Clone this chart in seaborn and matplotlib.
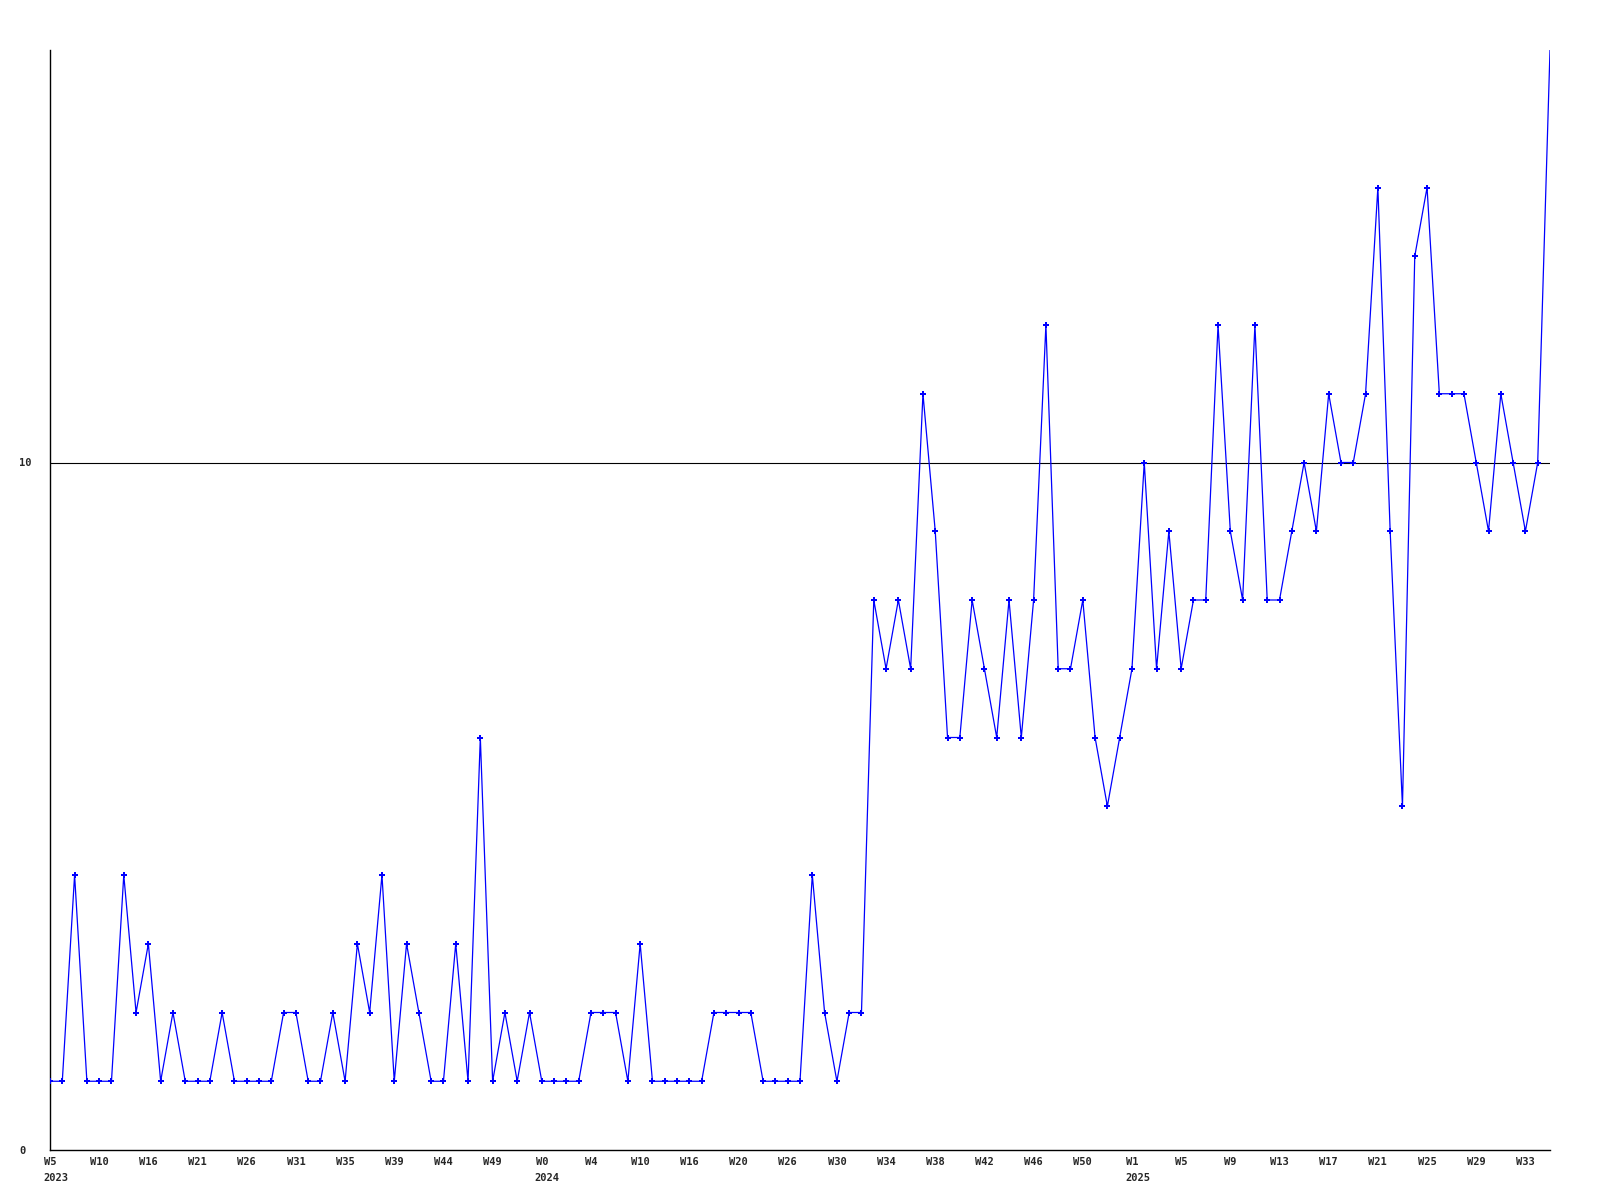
import matplotlib
matplotlib.use("Agg")
import matplotlib.pyplot as plt
import seaborn as sns
import pandas as pd

# weekly counts (123 weeks, 2023 W5 .. 2025 W35)
values = [
    1, 1, 4, 1, 1, 1, 4, 2, 3, 1,
    2, 1, 1, 1, 2, 1, 1, 1, 1, 2,
    2, 1, 1, 2, 1, 3, 2, 4, 1, 3,
    2, 1, 1, 3, 1, 6, 1, 2, 1, 2,
    1, 1, 1, 1, 2, 2, 2, 1, 3, 1,
    1, 1, 1, 1, 2, 2, 2, 2, 1, 1,
    1, 1, 4, 2, 1, 2, 2, 8, 7, 8,
    7, 11, 9, 6, 6, 8, 7, 6, 8, 6,
    8, 12, 7, 7, 8, 6, 5, 6, 7, 10,
    7, 9, 7, 8, 8, 12, 9, 8, 12, 8,
    8, 9, 10, 9, 11, 10, 10, 11, 14, 9,
    5, 13, 14, 11, 11, 11, 10, 9, 11, 10,
    9, 10, 16,
]
tick_positions = list(range(0, 121, 4))
tick_labels = ["W5", "W10", "W16", "W21", "W26", "W31", "W35", "W39", "W44", "W49",
               "W0", "W4", "W10", "W16", "W20", "W26", "W30", "W34", "W38", "W42",
               "W46", "W50", "W1", "W5", "W9", "W13", "W17", "W21", "W25", "W29", "W33"]
year_positions = [0, 40, 88]
year_labels = ["2023", "2024", "2025"]
y_ticks = [0, 10]
y_tick_labels = ["0", "10"]

sns.set_style("white")
plt.rcParams['font.family'] = ['DejaVu Sans Mono']
plt.rcParams['font.weight'] = 'bold'

df = pd.DataFrame({"idx": range(len(values)), "count": values})

fig = plt.figure(figsize=(16, 12), dpi=100)
ax = fig.add_axes([50 / 1600, 1 - 1150 / 1200, 1500 / 1600, 1100 / 1200])

ax.axhline(10, color="black", linewidth=0.8, zorder=1)
sns.lineplot(data=df, x="idx", y="count", ax=ax, color="#0000FF", linewidth=0.9,
             marker="P", markersize=4.0, markeredgewidth=0, markerfacecolor="#0000FF",
             markevery=list(range(len(values) - 1)), zorder=3)

ax.set_xlim(0, len(values) - 1)
ax.set_ylim(0, 16)
ax.set_xlabel("")
ax.set_ylabel("")

ax.set_xticks(tick_positions)
ax.set_xticklabels(tick_labels, fontsize=7.5, fontweight="bold", fontfamily="DejaVu Sans Mono")
ax.set_yticks(y_ticks)
ax.set_yticklabels(y_tick_labels, fontsize=7.5, fontweight="bold", fontfamily="DejaVu Sans Mono", ha="left")
ax.tick_params(axis="x", length=0, pad=5)
ax.tick_params(axis="y", length=0, pad=22)

for p, lab in zip(year_positions, year_labels):
    ax.annotate(lab, xy=(p, 0), xycoords=("data", "axes fraction"),
                xytext=(-5, -20), textcoords="offset points",
                ha="left", va="center", fontsize=7.5, fontweight="bold",
                fontfamily="DejaVu Sans Mono", annotation_clip=False)

for s in ["top", "right"]:
    ax.spines[s].set_visible(False)
for s in ["left", "bottom"]:
    ax.spines[s].set_color("black")
    ax.spines[s].set_linewidth(1.0)

fig.savefig("out.png", dpi=100, facecolor="white")
